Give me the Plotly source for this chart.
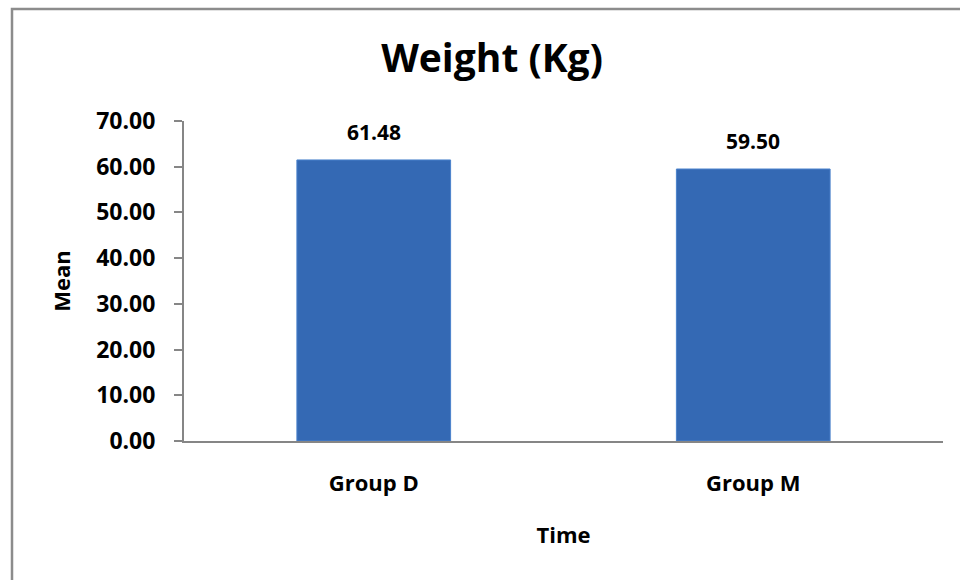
import plotly.graph_objects as go

# Mean body weight per group
groups = ["Group D", "Group M"]
mean_weight = [61.48, 59.50]
y_ticks = [0, 10, 20, 30, 40, 50, 60, 70]

FONT = "Open Sans"
AXIS_GREY = "#868686"

W, H = 960, 580
L, R, T, B = 184, 17, 121, 139
plot_w = W - L - R
plot_h = H - T - B

fig = go.Figure()
fig.add_trace(go.Bar(
    x=groups,
    y=mean_weight,
    marker=dict(color="#3469b4", line=dict(color="#4a82cc", width=1)),
    hoverinfo="x+y",
))

# value labels above each bar
for g, v in zip(groups, mean_weight):
    fig.add_annotation(
        x=g, y=v, xref="x", yref="y",
        text=f"<b>{v:.2f}</b>", showarrow=False,
        yanchor="bottom", yshift=12,
        font=dict(family=FONT, size=21, color="#000000"),
    )

# outer chart frame (only its top-left part falls inside the page)
fig.add_shape(
    type="rect", xref="paper", yref="paper",
    x0=(12 - L) / plot_w, x1=(W + 20 - L) / plot_w,
    y0=-(H + 20 - (T + plot_h)) / plot_h, y1=(T + plot_h - 9) / plot_h,
    line=dict(color="#8c8c8c", width=2.5), fillcolor="rgba(0,0,0,0)",
    layer="below",
)

fig.update_layout(
    width=W, height=H,
    margin=dict(l=L, r=R, t=T, b=B),
    paper_bgcolor="white", plot_bgcolor="white",
    bargap=0.595,
    showlegend=False,
    font=dict(family=FONT, color="#000000"),
    title=dict(
        text="<b>Weight (Kg)</b>",
        x=492 / W, xref="container", xanchor="center",
        y=1 - 58 / H, yref="container", yanchor="middle",
        font=dict(family=FONT, size=39, color="#000000"),
    ),
    xaxis=dict(
        showline=True, linecolor=AXIS_GREY, linewidth=2,
        ticks="", showgrid=False, zeroline=False,
        tickfont=dict(family=FONT, size=22, color="#000000"),
        ticklabelstandoff=22,
        title=dict(text="<b>Time</b>", font=dict(family=FONT, size=22), standoff=31),
    ),
    yaxis=dict(
        range=[0, 70],
        tickvals=y_ticks,
        ticktext=[f"<b>{v:.2f}</b>" for v in y_ticks],
        showline=True, linecolor=AXIS_GREY, linewidth=2,
        ticks="outside", ticklen=8, tickcolor=AXIS_GREY, tickwidth=2,
        showgrid=False, zeroline=False,
        tickfont=dict(family=FONT, size=23, color="#000000"),
        ticklabelstandoff=14,
        title=dict(text="<b>Mean</b>", font=dict(family=FONT, size=22), standoff=20),
    ),
)
fig.update_xaxes(tickvals=groups, ticktext=[f"<b>{g}</b>" for g in groups])

fig.write_html("out.html")
